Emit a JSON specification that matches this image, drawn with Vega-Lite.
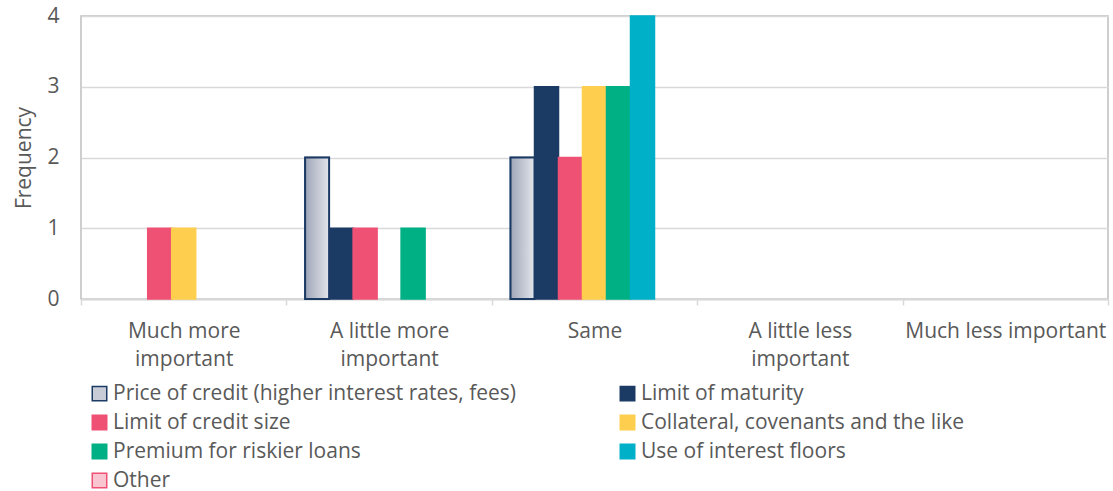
{
  "$schema": "https://vega.github.io/schema/vega-lite/v6.json",
  "width": 1027,
  "height": 283,
  "autosize": {"type": "none"},
  "padding": {"left": 81, "top": 16, "right": 5, "bottom": 192},
  "background": "white",
  "config": {
    "font": "Open Sans",
    "view": {"stroke": "#bfbfbf", "strokeWidth": 1.5},
    "axis": {"labelColor": "#595959", "titleColor": "#595959", "labelFont": "Open Sans", "titleFont": "Open Sans"},
    "legend": {"labelFont": "Open Sans"}
  },
  "data": {
    "values": [
      {"response": "Much more important", "factor": "Limit of credit size", "frequency": 1},
      {"response": "Much more important", "factor": "Collateral, covenants and the like", "frequency": 1},
      {"response": "A little more important", "factor": "Price of credit (higher interest rates, fees)", "frequency": 2},
      {"response": "A little more important", "factor": "Limit of maturity", "frequency": 1},
      {"response": "A little more important", "factor": "Limit of credit size", "frequency": 1},
      {"response": "A little more important", "factor": "Premium for riskier loans", "frequency": 1},
      {"response": "Same", "factor": "Price of credit (higher interest rates, fees)", "frequency": 2},
      {"response": "Same", "factor": "Limit of maturity", "frequency": 3},
      {"response": "Same", "factor": "Limit of credit size", "frequency": 2},
      {"response": "Same", "factor": "Collateral, covenants and the like", "frequency": 3},
      {"response": "Same", "factor": "Premium for riskier loans", "frequency": 3},
      {"response": "Same", "factor": "Use of interest floors", "frequency": 4}
    ]
  },
  "encoding": {
    "x": {
      "field": "response", "type": "nominal",
      "scale": {"domain": ["Much more important", "A little more important", "Same", "A little less important", "Much less important"], "paddingInner": 0, "paddingOuter": 0},
      "axis": {
        "title": null, "labelAngle": 0, "labelFontSize": 21, "labelPadding": 15, "labelLimit": 400,
        "tickBand": "extent", "tickColor": "#d9d9d9", "tickSize": 6, "tickWidth": 1.5,
        "domainColor": "#d9d9d9", "domainWidth": 2, "grid": false, "labelLineHeight": 28,
        "labelExpr": "datum.label == 'Much more important' ? ['Much more', 'important'] : datum.label == 'A little more important' ? ['A little more', 'important'] : datum.label == 'A little less important' ? ['A little less', 'important'] : datum.label"
      }
    },
    "xOffset": {
      "field": "factor", "type": "nominal",
      "scale": {"domain": ["Price of credit (higher interest rates, fees)", "Limit of maturity", "Limit of credit size", "Collateral, covenants and the like", "Premium for riskier loans", "Use of interest floors", "Other"], "paddingInner": 0, "paddingOuter": 0.78}
    },
    "y": {
      "field": "frequency", "type": "quantitative",
      "scale": {"domain": [0, 4]},
      "axis": {
        "title": "Frequency", "titleFontSize": 21, "titleFontWeight": "normal", "titlePadding": 12,
        "labelFontSize": 21, "labelPadding": 22, "values": [0, 1, 2, 3, 4], "labelOverlap": false,
        "domain": false, "ticks": false, "gridColor": "#d9d9d9", "gridWidth": 1.5
      }
    }
  },
  "layer": [
    {
      "mark": {"type": "bar", "strokeWidth": 1.5},
      "encoding": {
        "color": {
          "field": "factor", "type": "nominal",
          "scale": {
            "domain": ["Price of credit (higher interest rates, fees)", "Limit of maturity", "Limit of credit size", "Collateral, covenants and the like", "Premium for riskier loans", "Use of interest floors", "Other"],
            "range": ["#c8ccd6", "#1b3a64", "#ef5175", "#fecf4e", "#00b085", "#00b0c8", "#f9c5d0"]
          },
          "legend": {
            "title": null, "orient": "none", "legendX": 8, "legendY": 367, "direction": "horizontal", "columns": 2,
            "columnPadding": 100, "rowPadding": 7, "symbolType": "square", "symbolSize": 210,
            "symbolStrokeWidth": 1.5, "labelFontSize": 21, "labelColor": "#595959", "labelOffset": 3, "labelLimit": 600
          }
        },
        "stroke": {
          "field": "factor", "type": "nominal",
          "scale": {
            "domain": ["Price of credit (higher interest rates, fees)", "Limit of maturity", "Limit of credit size", "Collateral, covenants and the like", "Premium for riskier loans", "Use of interest floors", "Other"],
            "range": ["#1b3a64", "#1b3a64", "#ef5175", "#fecf4e", "#00b085", "#00b0c8", "#ef5175"]
          },
          "legend": {
            "title": null, "orient": "none", "legendX": 8, "legendY": 367, "direction": "horizontal", "columns": 2,
            "columnPadding": 100, "rowPadding": 7, "symbolType": "square", "symbolSize": 210,
            "symbolStrokeWidth": 1.5, "labelFontSize": 21, "labelColor": "#595959", "labelOffset": 3, "labelLimit": 600
          }
        }
      }
    },
    {
      "transform": [{"filter": "datum.factor == 'Price of credit (higher interest rates, fees)'"}],
      "mark": {
        "type": "bar", "stroke": "#1b3a64", "strokeWidth": 2,
        "fill": {"gradient": "linear", "x1": 0, "y1": 0, "x2": 1, "y2": 0, "stops": [{"offset": 0, "color": "#9fa6b8"}, {"offset": 1, "color": "#e3e5ea"}]}
      },
      "encoding": {}
    }
  ]
}
